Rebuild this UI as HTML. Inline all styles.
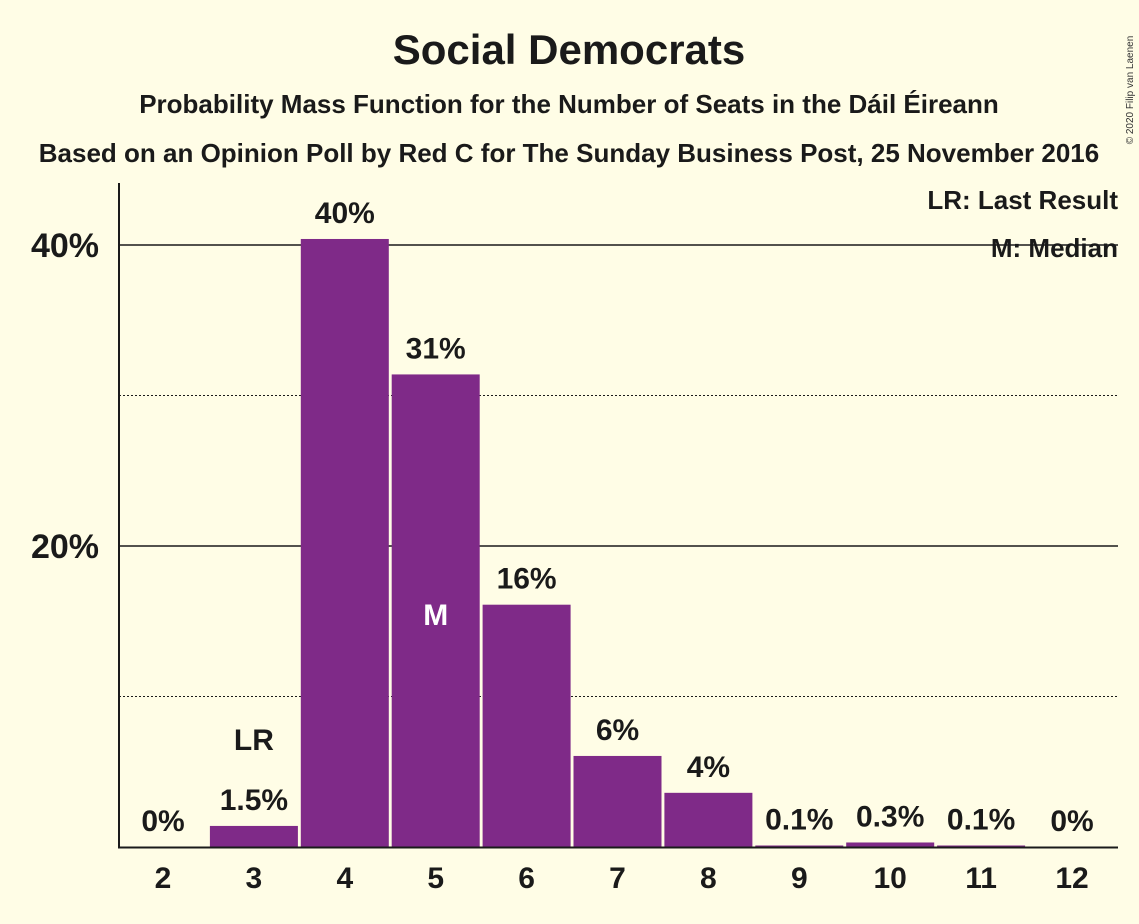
<!DOCTYPE html>
<html><head><meta charset="utf-8"><style>
body{margin:0;background:#fffde6;}
svg{display:block;font-family:"Liberation Sans",sans-serif;}
</style></head><body>
<svg width="1139" height="924">
<rect width="1139" height="924" fill="#fffde6"/>
<text x="569" y="64" text-anchor="middle" font-size="42" font-weight="bold" fill="#1a1a1a">Social Democrats</text>
<text x="569" y="113" text-anchor="middle" font-size="26" font-weight="bold" fill="#1a1a1a">Probability Mass Function for the Number of Seats in the Dáil Éireann</text>
<text x="569" y="162" text-anchor="middle" font-size="26" font-weight="bold" fill="#1a1a1a">Based on an Opinion Poll by Red C for The Sunday Business Post, 25 November 2016</text>
<text x="1133" y="90" font-size="10" fill="#333" transform="rotate(-90 1133 90)" text-anchor="middle">© 2020 Filip van Laenen</text>
<g id="grid"></g>
<g id="bars"></g>
<line x1="119" y1="183" x2="119" y2="848" stroke="#1a1a1a" stroke-width="2"/>
<line x1="118" y1="847.5" x2="1118" y2="847.5" stroke="#1a1a1a" stroke-width="2"/>
<text x="1118" y="209" text-anchor="end" font-size="26" font-weight="bold" fill="#1a1a1a">LR: Last Result</text>
<text x="1118" y="257" text-anchor="end" font-size="26" font-weight="bold" fill="#1a1a1a">M: Median</text>
</svg>
<script>
const categories=[2,3,4,5,6,7,8,9,10,11,12];
const values=[0,1.4,40.4,31.4,16.1,6.05,3.6,0.1,0.3,0.1,0];
const valueLabels=["0%","1.5%","40%","31%","16%","6%","4%","0.1%","0.3%","0.1%","0%"];
const yTicks=[20,40];
const yMinor=[10,30];
const lastResult=3, median=5;
const NS="http://www.w3.org/2000/svg";
const y=v=>847-v*15.05;
const x=c=>163+(c-2)*90.9;
const grid=document.getElementById('grid'), bars=document.getElementById('bars');
function mk(tag,a,p){const e=document.createElementNS(NS,tag);for(const k in a)e.setAttribute(k,a[k]);p.appendChild(e);return e;}
yTicks.forEach(t=>{
 const l=mk('line',{x1:119,x2:1118,y1:y(t),y2:y(t),stroke:'#1a1a1a','stroke-width':1.5},grid);
 
 
 const tx=mk('text',{x:99,y:y(t)+12,'text-anchor':'end','font-size':34,'font-weight':'bold',fill:'#1a1a1a'},grid);
 tx.textContent=t+'%';
 
 
});
yMinor.forEach(t=>{
 const l=mk('line',{x1:119,x2:1118,y1:y(t),y2:y(t),stroke:'#1a1a1a','stroke-width':1,'stroke-dasharray':'2,2'},grid);
 
 
});
categories.forEach((c,i)=>{
 const v=values[i];
 if(v>0){
  const r=mk('rect',{x:x(c)-44,y:y(v),width:88,height:847-y(v),fill:'#7f2a88'},bars);
  
  
 }
 const lb=mk('text',{x:x(c),y:y(v)-16,'text-anchor':'middle','font-size':30,'font-weight':'bold',fill:'#1a1a1a'},bars);
 lb.textContent=valueLabels[i];
 
 
 const xl=mk('text',{x:x(c),y:888,'text-anchor':'middle','font-size':30,'font-weight':'bold',fill:'#1a1a1a'},bars);
 xl.textContent=c;
 
 
 if(c===lastResult){
  const t=mk('text',{x:x(c),y:y(v)-76,'text-anchor':'middle','font-size':30,'font-weight':'bold',fill:'#1a1a1a'},bars);
  t.textContent='LR';
  
  
 }
 if(c===median){
  const t=mk('text',{x:x(c),y:625,'text-anchor':'middle','font-size':30,'font-weight':'bold',fill:'#ffffff'},bars);
  t.textContent='M';
  
  
 }
});
</script>
</body></html>
